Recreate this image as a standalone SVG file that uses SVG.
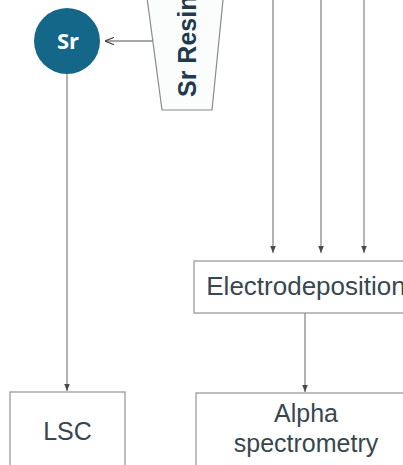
<svg xmlns="http://www.w3.org/2000/svg" width="403" height="465" viewBox="0 0 403 465">
<defs>
<style>
.ln{stroke:#8a8a8a;stroke-width:1.3;fill:none}
.box{fill:#ffffff;stroke:#9a9a9a;stroke-width:1.3}
.lbl{font-family:"Liberation Sans",Arial,sans-serif;font-size:25px;fill:#37474f;text-anchor:middle}
</style>
<marker id="ah" viewBox="0 0 10 10" refX="10" refY="5" markerWidth="7" markerHeight="7" markerUnits="userSpaceOnUse" orient="auto">
<path d="M0,1 L10,5 L0,9 Z" fill="#4a4a4a"/>
</marker>
<marker id="av" viewBox="0 0 10 10" refX="10" refY="5" markerWidth="9" markerHeight="9" markerUnits="userSpaceOnUse" orient="auto">
<path d="M0,1 L10,5 L0,9" fill="none" stroke="#4a4a4a" stroke-width="1.4"/>
</marker>
</defs>
<rect width="403" height="465" fill="#ffffff"/>
<g id="connectors">
<line class="ln" x1="153" y1="41" x2="105" y2="41" marker-end="url(#av)"/>
<line class="ln" x1="67" y1="74" x2="67" y2="391" marker-end="url(#ah)"/>
<line class="ln" x1="273" y1="0" x2="273" y2="253" marker-end="url(#ah)"/>
<line class="ln" x1="321" y1="0" x2="321" y2="253" marker-end="url(#ah)"/>
<line class="ln" x1="364" y1="0" x2="364" y2="253" marker-end="url(#ah)"/>
<line class="ln" x1="305" y1="313" x2="305" y2="392" marker-end="url(#ah)"/>
</g>
<g id="sr">
<circle cx="67" cy="41" r="33" fill="#15678a"/>
<text x="68" y="49" font-family="'Open Sans','Liberation Sans',sans-serif" font-size="22" font-weight="bold" fill="#ffffff" text-anchor="middle">Sr</text>
</g>
<g id="sr-resin">
<path d="M146,-10 L224,-10 L212,110 L162,110 Z" fill="#fbfdfd" stroke="#8a8a8a" stroke-width="1.2"/>
<text transform="translate(196,97) rotate(-90)" font-family="'Liberation Sans',Arial,sans-serif" font-size="25" font-weight="bold" fill="#1f3a4d">Sr Resin</text>
</g>
<g id="electrodeposition">
<rect class="box" x="194" y="261" width="224" height="52"/>
<text class="lbl" x="306" y="295" font-size="26" style="font-size:26px">Electrodeposition</text>
</g>
<g id="lsc">
<rect class="box" x="10" y="392" width="115" height="90"/>
<text class="lbl" x="67.5" y="440">LSC</text>
</g>
<g id="alpha">
<rect class="box" x="196" y="393" width="222" height="90"/>
<text class="lbl" x="306" y="422">Alpha</text>
<text class="lbl" x="306" y="452">spectrometry</text>
</g>
</svg>
